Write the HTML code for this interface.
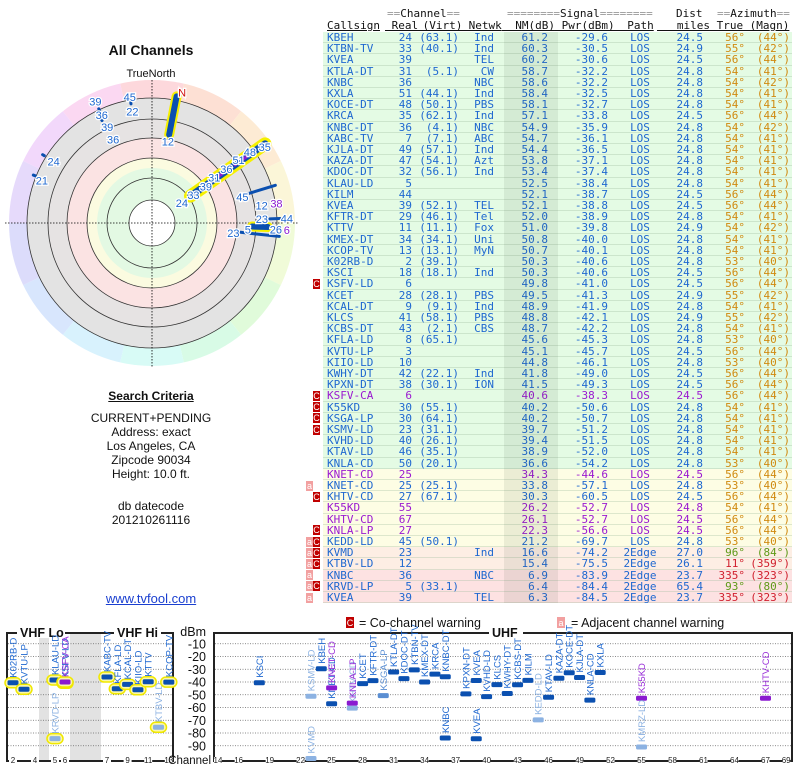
<!DOCTYPE html>
<html><head><meta charset="utf-8">
<style>
body{margin:0;width:800px;height:768px;background:#fff;position:relative;overflow:hidden;font-family:"Liberation Sans",sans-serif}
.mono{font-family:"DejaVu Sans Mono","Liberation Mono",monospace;font-size:11px}
.row{position:absolute;left:323px;width:469px;height:11.2px;line-height:11.2px;border-bottom:1px solid rgba(160,190,160,0.35);box-sizing:border-box}
.c{position:absolute;top:0;white-space:pre}
.hdr{position:absolute;white-space:pre;color:#111}
.eq{color:#999}
.flag{position:absolute;width:7px;height:10px;font-size:9px;line-height:10px;text-align:center;color:#fff;font-family:"Liberation Sans",sans-serif}
.lt{position:absolute;left:0;width:302px;text-align:center;font-size:12px;color:#111}
</style></head><body>
<svg id="svg" width="800" height="768" style="position:absolute;left:0;top:0" xmlns="http://www.w3.org/2000/svg">
<defs>
<clipPath id="ringclip"><circle cx="152" cy="223" r="143"/></clipPath>
</defs>
</svg>
<div class="lt" style="top:42px;font-size:14px;font-weight:bold">All Channels</div>
<div class="lt" style="top:68px;font-size:11px">TrueNorth</div>
<div class="lt" style="top:389px;font-weight:bold;text-decoration:underline">Search Criteria</div>
<div class="lt" style="top:411px">CURRENT+PENDING</div>
<div class="lt" style="top:425px">Address: exact</div>
<div class="lt" style="top:439px">Los Angeles, CA</div>
<div class="lt" style="top:453px">Zipcode 90034</div>
<div class="lt" style="top:467px">Height: 10.0 ft.</div>
<div class="lt" style="top:499px">db datecode</div>
<div class="lt" style="top:513px">201210261116</div>
<div class="lt" style="top:591px;font-size:13px;color:#1a3fd0;text-decoration:underline">www.tvfool.com</div>

<div class="mono" id="table">
<div class="hdr" style="left:387px;top:7px"><span class="eq">==</span>Channel<span class="eq">==</span></div>
<div class="hdr" style="left:507px;top:7px"><span class="eq">========</span>Signal<span class="eq">========</span></div>
<div class="hdr" style="left:676px;top:7px">Dist</div>
<div class="hdr" style="left:717px;top:7px"><span class="eq">==</span>Azimuth<span class="eq">==</span></div>
<div class="hdr" style="left:327px;top:19px;text-decoration:underline">Callsign</div>
<div class="hdr" style="left:385px;top:19px;text-decoration:underline"> Real</div>
<div class="hdr" style="left:416px;top:19px;text-decoration:underline"> (Virt)</div>
<div class="hdr" style="left:462px;top:19px;text-decoration:underline"> Netwk</div>
<div class="hdr" style="left:502px;top:19px;text-decoration:underline">  NM(dB)</div>
<div class="hdr" style="left:555px;top:19px;text-decoration:underline"> Pwr(dBm)</div>
<div class="hdr" style="left:614px;top:19px;text-decoration:underline">  Path</div>
<div class="hdr" style="left:657px;top:19px;text-decoration:underline">   miles</div>
<div class="hdr" style="left:710px;top:19px;text-decoration:underline"> True</div>
<div class="hdr" style="left:743px;top:19px;text-decoration:underline"> (Magn)</div>
</div>

<script>
// ---------- table data ----------
var tblRows = [
"KBEH|24|(63.1)|Ind|61.2|-29.6|LOS|24.5|56|44|||g",
"KTBN-TV|33|(40.1)|Ind|60.3|-30.5|LOS|24.9|55|42|||g",
"KVEA|39||TEL|60.2|-30.6|LOS|24.5|56|44|||g",
"KTLA-DT|31|(5.1)|CW|58.7|-32.2|LOS|24.8|54|41|||g",
"KNBC|36||NBC|58.6|-32.2|LOS|24.8|54|42|||g",
"KXLA|51|(44.1)|Ind|58.4|-32.5|LOS|24.8|54|41|||g",
"KOCE-DT|48|(50.1)|PBS|58.1|-32.7|LOS|24.8|54|41|||g",
"KRCA|35|(62.1)|Ind|57.1|-33.8|LOS|24.5|56|44|||g",
"KNBC-DT|36|(4.1)|NBC|54.9|-35.9|LOS|24.8|54|42|||g",
"KABC-TV|7|(7.1)|ABC|54.7|-36.1|LOS|24.8|54|41|||g",
"KJLA-DT|49|(57.1)|Ind|54.4|-36.5|LOS|24.8|54|41|||g",
"KAZA-DT|47|(54.1)|Azt|53.8|-37.1|LOS|24.8|54|41|||g",
"KDOC-DT|32|(56.1)|Ind|53.4|-37.4|LOS|24.8|54|41|||g",
"KLAU-LD|5|||52.5|-38.4|LOS|24.8|54|41|||g",
"KILM|44|||52.1|-38.7|LOS|24.5|56|44|||g",
"KVEA|39|(52.1)|TEL|52.1|-38.8|LOS|24.5|56|44|||g",
"KFTR-DT|29|(46.1)|Tel|52.0|-38.9|LOS|24.8|54|41|||g",
"KTTV|11|(11.1)|Fox|51.0|-39.8|LOS|24.9|54|42|||g",
"KMEX-DT|34|(34.1)|Uni|50.8|-40.0|LOS|24.8|54|41|||g",
"KCOP-TV|13|(13.1)|MyN|50.7|-40.1|LOS|24.8|54|41|||g",
"K02RB-D|2|(39.1)||50.3|-40.6|LOS|24.8|53|40|||g",
"KSCI|18|(18.1)|Ind|50.3|-40.6|LOS|24.5|56|44|||g",
"KSFV-LD|6|||49.8|-41.0|LOS|24.5|56|44|C||g",
"KCET|28|(28.1)|PBS|49.5|-41.3|LOS|24.9|55|42|||g",
"KCAL-DT|9|(9.1)|Ind|48.9|-41.9|LOS|24.8|54|41|||g",
"KLCS|41|(58.1)|PBS|48.8|-42.1|LOS|24.9|55|42|||g",
"KCBS-DT|43|(2.1)|CBS|48.7|-42.2|LOS|24.8|54|41|||g",
"KFLA-LD|8|(65.1)||45.6|-45.3|LOS|24.8|53|40|||g",
"KVTU-LP|3|||45.1|-45.7|LOS|24.5|56|44|||g",
"KIIO-LD|10|||44.8|-46.1|LOS|24.8|53|40|||g",
"KWHY-DT|42|(22.1)|Ind|41.8|-49.0|LOS|24.5|56|44|||g",
"KPXN-DT|38|(30.1)|ION|41.5|-49.3|LOS|24.5|56|44|||g",
"KSFV-CA|6|||40.6|-38.3|LOS|24.5|56|44|C|p|g",
"K55KD|30|(55.1)||40.2|-50.6|LOS|24.8|54|41|C||g",
"KSGA-LP|30|(64.1)||40.2|-50.7|LOS|24.8|54|41|C||g",
"KSMV-LD|23|(31.1)||39.7|-51.2|LOS|24.8|54|41|C||g",
"KVHD-LD|40|(26.1)||39.4|-51.5|LOS|24.8|54|41|||g",
"KTAV-LD|46|(35.1)||38.9|-52.0|LOS|24.8|54|41|||g",
"KNLA-CD|50|(20.1)||36.6|-54.2|LOS|24.8|53|40|||g",
"KNET-CD|25|||34.3|-44.6|LOS|24.5|56|44||p|y",
"KNET-CD|25|(25.1)||33.8|-57.1|LOS|24.8|53|40|a||y",
"KHTV-CD|27|(67.1)||30.3|-60.5|LOS|24.5|56|44|C||y",
"K55KD|55|||26.2|-52.7|LOS|24.8|54|41||p|y",
"KHTV-CD|67|||26.1|-52.7|LOS|24.5|56|44||p|y",
"KNLA-LP|27|||22.3|-56.6|LOS|24.5|56|44|C|p|y",
"KEDD-LD|45|(50.1)||21.2|-69.7|LOS|24.8|53|40|aC||y",
"KVMD|23||Ind|16.6|-74.2|2Edge|27.0|96|84|aC|gz|o",
"KTBV-LD|12|||15.4|-75.5|2Edge|26.1|11|359|aC|rz|o",
"KNBC|36||NBC|6.9|-83.9|2Edge|23.7|335|323|a|rz|r",
"KRVD-LP|5|(33.1)||6.4|-84.4|2Edge|65.4|93|80|aC|gz|r",
"KVEA|39||TEL|6.3|-84.5|2Edge|23.7|335|323|a|rz|r"
];
var bgColors={g:"#e4fbe4",y:"#fdfde4",o:"#fdeee4",r:"#fde2e2"};
var tbl=document.getElementById('table');
var shade=document.createElement('div');


tbl.appendChild(shade);
tblRows.forEach(function(s,i){
  var f=s.split('|');
  var top=32+i*11.2;
  var row=document.createElement('div');
  row.className='row';
  
  
  row.style.top=top+'px';
  row.style.background=bgColors[f[12]];
  var col=f[11].indexOf('p')>=0?'#9a1ad0':'#1f68d0';
  var az='#d08a10';
  if(f[11].indexOf('gz')>=0) az='#5e9a18';
  if(f[11].indexOf('rz')>=0) az='#d0202e';
  function cell(txt,x,align,c){
    var d=document.createElement('span');
    d.className='c';d.textContent=txt;d.style.color=c;
    if(align==='r'){d.style.right=(792-x)+'px';}
    else if(align==='m'){d.style.left=(x-323-20)+'px';d.style.width='40px';d.style.textAlign='center';}
    else d.style.left=(x-323)+'px';
    row.appendChild(d);
  }
  cell(f[0],327,'l',col);
  cell(f[1],412,'r',col);
  cell(f[2],459,'r','#1f68d0');
  cell(f[3],494,'r','#1f68d0');
  cell(f[4],548,'r',col);
  cell(f[5],608,'r',col);
  cell(f[6],640,'m',col);
  cell(f[7],703,'r',col);
  cell(f[8]+'°',745,'r',az);
  cell('('+f[9]+'°)',790,'r',az);
  tbl.appendChild(row);
  var fl=f[10];
  if(fl.indexOf('C')>=0){
    var b=document.createElement('div');b.className='flag';b.textContent='C';
    
    
    b.style.left='313px';b.style.top=(top+0.6)+'px';b.style.background='#c00000';tbl.appendChild(b);
  }
  if(fl.indexOf('a')>=0){
    var b2=document.createElement('div');b2.className='flag';b2.textContent='a';
    
    
    b2.style.left='306px';b2.style.top=(top+0.6)+'px';b2.style.background='#f2a0a0';tbl.appendChild(b2);
  }
});
shade.style.cssText='position:absolute;left:504px;top:32px;width:54px;height:'+(tblRows.length*11.2)+'px;background:rgba(60,80,60,0.09);z-index:2';
</script>

<script>
// ---------- polar chart data ----------
var polarAz   = [11, 55, 73, 96, 92, 88, 350, 334, 335, 302, 292];
var polarR1   = [90, 47, 99, 89, 100, 118, 121, 114, 124, 127, 126];
var polarR2   = [129, 138, 129, 128, 116, 128, 123, 116, 126, 129, 128];
var polarHalo = [1, 1, 0, 0, 1, 0, 0, 0, 0, 0, 0];
var polarLblText = ["12","N","39","45","36","22","39","36","24","21","24","33","39","31","36","51","48","35","45","12","38","23","44","23","5","26","6"];
var polarLblAz   = [11,13,335,350,335,350,335,335,302,291,56,56,56,54,54,54,54,56,74,81,81,88,88,97,94,93,93];
var polarLblR    = [83,134,134,128,119,113,106,92,116,118,36,50,65,77,92,107,121,136,94,111,126,110,135,82,96,124,135];
var polarLblKind = ["b","n","b","b","b","b","b","b","b","b","b","b","b","b","b","b","b","b","b","b","p","b","b","b","b","b","p"];

// ---------- spectrum data ----------
var specNames = ["K02RB-D","KVTU-LP","KLAU-LD","KRVD-LP","KSFV-LD","KSFV-CA","KABC-TV","KFLA-LD","KCAL-DT","KIIO-LD","KTTV","KTBV-LD","KCOP-TV",
 "KSCI","KSMV-LD","KVMD","KBEH","KNET-CD","KNET-CD","KHTV-CD","KNLA-LP","KCET","KFTR-DT","KSGA-LP","KTLA-DT","KDOC-DT","KTBN-TV","KMEX-DT","KRCA","KNBC-DT","KNBC","KPXN-DT","KVEA","KVEA","KVHD-LD","KLCS","KWHY-DT","KCBS-DT","KILM","KEDD-LD","KTAV-LD","KAZA-DT","KOCE-DT","KJLA-DT","KNLA-CD","KXLA","K55KD","KMRZ-LD","KHTV-CD"];
var specChannels = [2,3,5,5,6,6,7,8,9,10,11,12,13,
 18,23,23,24,25,25,27,27,28,29,30,31,32,33,34,35,36,36,38,39,39,40,41,42,43,44,45,46,47,48,49,50,51,55,55,67];
var specDbm = [-40.6,-45.7,-38.4,-84.4,-41.0,-40.0,-36.1,-45.3,-41.9,-46.1,-39.8,-75.5,-40.1,
 -40.6,-51.2,-100,-29.6,-57.1,-44.6,-60.5,-56.6,-41.3,-38.9,-50.7,-32.2,-37.4,-30.5,-40.0,-33.8,-35.9,-83.9,-49.3,-38.8,-84.5,-51.5,-42.1,-49.0,-42.2,-38.7,-69.7,-52.0,-37.1,-32.7,-36.5,-54.2,-32.5,-52.7,-91,-52.7];
var specKind = ["d","d","d","l","d","p","d","d","d","d","d","l","d",
 "d","l","l","d","d","p","l","p","d","d","m","d","d","d","d","d","d","d","d","d","d","d","d","d","d","d","l","d","d","d","d","d","d","p","l","p"];
var dbmTicks = [-10,-20,-30,-40,-50,-60,-70,-80,-90];
var vhfTicks = [2,4,5,6,7,9,11,13];
var uhfTicks = [14,16,19,22,25,28,31,34,37,40,43,46,49,52,55,58,61,64,67,69];

var NS='http://www.w3.org/2000/svg';
var svg=document.getElementById('svg');
function el(tag,attrs,parent){var e=document.createElementNS(NS,tag);for(var k in attrs)e.setAttribute(k,attrs[k]);(parent||svg).appendChild(e);return e;}

// ---- polar ----
var CX=152,CY=223;
function px(az,r){return CX+r*Math.sin(az*Math.PI/180);}
function py(az,r){return CY-r*Math.cos(az*Math.PI/180);}
var pg=el('g',{});


var hues=['#fdd8dc','#fde0d4','#fdebd4','#fbf6d8','#f0fbd8','#e0fbda','#d8fbe6','#d8fbf6','#d8f2fd','#d8e6fd','#dcdcfb','#e6dafb','#f2d8fb','#fbd8f2'];
for(var i=0;i<hues.length;i++){
  var a1=(i-0.5)*360/hues.length, a2=(i+0.5)*360/hues.length;
  var d='M'+CX+' '+CY+' L'+px(a1,150)+' '+py(a1,150)+' A150 150 0 0 1 '+px(a2,150)+' '+py(a2,150)+' Z';
  var w=el('path',{d:d,fill:hues[i],'clip-path':'url(#ringclip)'},pg);
  
  
}
var bands=[[125,'#e3e3e3'],[104,'#e6e3e3'],[85,'#fbe3e3'],[65,'#fbfbe0'],[55,'#e3f9e3'],[23,'#ffffff']];
bands.forEach(function(b){var c=el('circle',{cx:CX,cy:CY,r:b[0],fill:b[1]},pg);
  
  });
[125,104,85,65,45,23].forEach(function(r){var c=el('circle',{cx:CX,cy:CY,r:r,fill:'none',stroke:'#333','stroke-width':0.8},pg);
  
  });
var hl=el('line',{x1:5,y1:CY,x2:298,y2:CY,stroke:'#000','stroke-width':0.8,'stroke-dasharray':'1.5 1.5'},pg);


var vl=el('line',{x1:CX,y1:80,x2:CX,y2:368,stroke:'#000','stroke-width':0.8,'stroke-dasharray':'1.5 1.5'},pg);


for(var i=0;i<polarAz.length;i++){
  var x1=px(polarAz[i],polarR1[i]),y1=py(polarAz[i],polarR1[i]),x2=px(polarAz[i],polarR2[i]),y2=py(polarAz[i],polarR2[i]);
  if(polarHalo[i]){
    var h=el('line',{x1:x1,y1:y1,x2:x2,y2:y2,stroke:'#f5f000','stroke-width':i==1?13:10,'stroke-linecap':'round'},pg);
    
    
  }
  var sw=polarHalo[i]?(i==1?7:6):3;
  var b=el('line',{x1:x1,y1:y1,x2:x2,y2:y2,stroke:'#0a4fb0','stroke-width':sw,'stroke-linecap':'round'},pg);
  
  
  if(i==1){
    var pb=el('line',{x1:px(55,60),y1:py(55,60),x2:px(55,125),y2:py(55,125),stroke:'#8a1ad0','stroke-width':3,'stroke-dasharray':'6 4'},pg);
    
    
  }
}
for(var i=0;i<polarLblText.length;i++){
  var c=polarLblKind[i]=='n'?'#d01010':(polarLblKind[i]=='p'?'#8a1ad0':'#1f68d0');
  var t=el('text',{x:px(polarLblAz[i],polarLblR[i]),y:py(polarLblAz[i],polarLblR[i])+4,'text-anchor':'middle','font-size':11,fill:c,stroke:'#fff','stroke-width':2.5,'paint-order':'stroke','font-family':'Liberation Sans, sans-serif'},pg);
  t.textContent=polarLblText[i];
  
  
}

// ---- spectrum ----
function chX(ch){
  if(ch<=4) return 13+(ch-2)*11;
  if(ch==5) return 55;
  if(ch==6) return 65;
  if(ch<=13) return 107+(ch-7)*10.3;
  return 218+(ch-14)*10.33;
}
function yDbm(v){return 631-v*1.275;}
var sg=el('g',{'font-family':'Liberation Sans, sans-serif'});


[[39,49],[70,101]].forEach(function(r){var g=el('rect',{x:r[0],y:633,width:r[1]-r[0],height:128,fill:'#e2e2e2'},sg);
  
  });
dbmTicks.forEach(function(v){
  var y=yDbm(v);
  [[8,172],[215,791]].forEach(function(s){
    var l=el('line',{x1:s[0],y1:y,x2:s[1],y2:y,stroke:'#666','stroke-width':0.8,'stroke-dasharray':'1 1.5'},sg);
    
    
  });
  var t=el('text',{x:206,y:y+4.5,'text-anchor':'end','font-size':12.5,fill:'#111'},sg);t.textContent=v;
  
  
});
var dt=el('text',{x:206,y:636,'text-anchor':'end','font-size':12.5,fill:'#111'},sg);dt.textContent='dBm';


var lp=el('rect',{x:7,y:633,width:166,height:128,fill:'none',stroke:'#222','stroke-width':2},sg);


var rp=el('rect',{x:214,y:633,width:578,height:128,fill:'none',stroke:'#222','stroke-width':2},sg);


[['VHF Lo',20,62],['VHF Hi',117,158],['UHF',492,520]].forEach(function(s){
  var r=el('rect',{x:s[1]-3,y:628,width:s[2]-s[1]+6,height:10,fill:'#fff'},sg);
  
  
  var t=el('text',{x:s[1],y:637,'font-size':12.5,'font-weight':'bold',fill:'#111'},sg);t.textContent=s[0];
  
  
});
function tick(ch){
  var x=chX(ch);
  var r=el('rect',{x:x-4,y:757,width:8,height:8,fill:'#fff'},sg);
  
  
  var t=el('text',{x:x,y:763,'text-anchor':'middle','font-size':8,fill:'#222'},sg);t.textContent=ch;
  
  
}
vhfTicks.forEach(tick);uhfTicks.forEach(tick);
var ct=el('text',{x:211,y:764,'text-anchor':'end','font-size':11.5,fill:'#111'},sg);ct.textContent='Channel';


var kindCol={d:['#0b50b0','#1f68d0'],l:['#8cb2e2','#8cb2e2'],m:['#5a8ed2','#5a8ed2'],p:['#8a1ad0','#9a30d8']};
for(var i=0;i<specNames.length;i++){
  var x=chX(specChannels[i]),y=yDbm(specDbm[i]);
  var col=kindCol[specKind[i]];
  if(specChannels[i]<=13){
    var h=el('rect',{x:x-8,y:y-5,width:16,height:10,rx:5,fill:'#fbf7a8',stroke:'#f0e800','stroke-width':1.5},sg);
    
    
  }
  var m=el('rect',{x:x-5.5,y:y-2.5,width:11,height:5,rx:1.5,fill:col[0]},sg);
  
  
  var t=el('text',{x:0,y:0,'font-size':9.5,fill:col[1],'text-anchor':'start',transform:'translate('+(x+3.5)+','+(y-5)+') rotate(-90)'},sg);
  t.textContent=specNames[i];
  
  
}
// legend
var lg=el('g',{'font-size':12.5,fill:'#111'},sg);


var cb=el('rect',{x:346,y:617,width:8,height:11,fill:'#c00000'},lg);


var cbt=el('text',{x:350,y:626,'font-size':9,fill:'#fff','text-anchor':'middle'},lg);cbt.textContent='C';


var c1=el('text',{x:359,y:627},lg);c1.textContent='= Co-channel warning';


var ab=el('rect',{x:557,y:617,width:8,height:11,fill:'#f2a0a0'},lg);


var abt=el('text',{x:561,y:626,'font-size':9,fill:'#fff','text-anchor':'middle'},lg);abt.textContent='a';


var a1t=el('text',{x:571,y:627},lg);a1t.textContent='= Adjacent channel warning';


</script>
</body></html>
